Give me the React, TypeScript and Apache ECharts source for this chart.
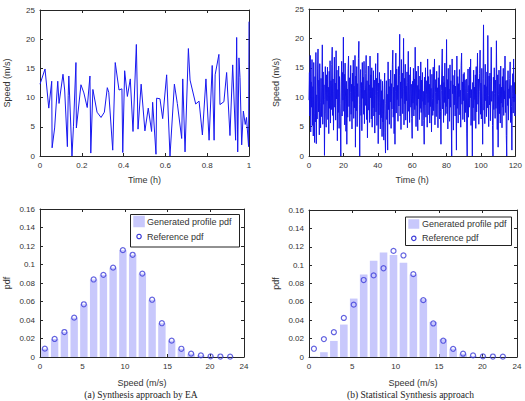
import React, { useEffect, useRef } from "react";
import * as echarts from "echarts";

// (a) one-hour synthetic wind speed profile: time (h) and speed (m/s)
const timeA = [
  0.0, 0.024, 0.042, 0.056, 0.058, 0.07, 0.085, 0.091, 0.11, 0.118, 0.131, 0.135, 0.138, 0.153, 0.16,
  0.172, 0.174, 0.196, 0.21, 0.226, 0.239, 0.243, 0.253, 0.273, 0.292, 0.308, 0.322, 0.329, 0.348,
  0.36, 0.378, 0.392, 0.396, 0.405, 0.418, 0.432, 0.445, 0.461, 0.469, 0.484, 0.502, 0.518, 0.534,
  0.539, 0.555, 0.558, 0.574, 0.587, 0.606, 0.622, 0.643, 0.657, 0.678, 0.683, 0.694, 0.71, 0.718,
  0.745, 0.761, 0.777, 0.794, 0.809, 0.824, 0.833, 0.838, 0.856, 0.861, 0.88, 0.893, 0.909, 0.922,
  0.936, 0.941, 0.946, 0.952, 0.957, 0.965, 0.973, 0.982, 0.988, 0.998, 1.0,
];
const speedA = [
  12.3, 14.9, 8.2, 12.8, 1.4, 4.8, 12.8, 9.0, 14.0, 11.3, 1.6, 10.4, 13.7, 0.0, 5.0,
  16.0, 4.8, 12.2, 10.8, 8.3, 13.7, 0.5, 11.4, 7.5, 6.6, 7.5, 11.7, 10.9, 1.0,
  16.0, 11.3, 11.5, 0.6, 14.6, 10.2, 13.2, 4.2, 19.1, 4.6, 12.3, 4.3, 8.2, 4.2,
  9.2, 0.3, 9.9, 9.8, 6.4, 13.9, 0.0, 12.3, 9.0, 3.0, 13.2, 0.7, 18.4, 13.0,
  8.9, 9.4, 3.6, 13.2, 2.7, 15.5, 2.7, 13.9, 17.4, 8.8, 9.3, 14.3, 3.5, 15.6,
  2.7, 20.3, 0.7, 16.8, 13.4, 1.9, 7.7, 5.4, 6.6, 1.6, 23.0,
];

// (b) 120-hour profile, one sample every quarter hour
const stepB = 0.25;
const speedB = [
  9.5, 14.2, 6.8, 17.1, 4.1, 12.6, 8.3, 16.4, 5.2, 11.8, 3.4, 15.9, 7.2, 2.3, 13.5, 5.8, 17.6, 2.1, 10.4, 6.3,
  14.8, 18.2, 7.5, 12.9, 3.6, 15.7, 9.1, 4.8, 13.2, 6.7, 11.6, 18.9, 5.4, 14.3, 8.8, 12.1, 0.1, 9.6, 15.2, 7.3,
  4.9, 13.8, 9.4, 15.1, 6.2, 11.7, 3.8, 14.4, 8.1, 16.2, 5.6, 12.8, 7.9, 15.6, 18.5, 6.9, 13.1, 4.4, 10.9, 16.8,
  8.3, 12.4, 6.1, 17.9, 9.7, 14.6, 2.6, 11.3, 7.4, 15.3, 4.7, 13.5, 8.9, 5.1, 0.0, 12.6, 16.1, 6.8, 14.2, 9.5,
  20.2, 7.6, 13.9, 5.3, 15.8, 10.2, 4.2, 12.7, 2.0, 11.4, 6.6, 14.9, 17.0, 8.4, 13.3, 5.9, 10.8, 15.4, 7.1, 12.2,
  4.6, 14.1, 9.3, 16.3, 6.4, 11.9, 8.2, 17.1, 1.5, 13.6, 7.7, 15.2, 5.0, 12.3, 10.1, 16.6, 19.5, 8.7, 0.0, 11.5,
  14.7, 6.9, 12.5, 4.3, 15.9, 9.8, 13.4, 7.1, 16.1, 5.5, 11.2, 8.6, 14.0, 17.1, 6.2, 12.8, 3.1, 10.7, 15.3, 7.8,
  12.1, 5.7, 17.0, 9.9, 13.8, 6.3, 15.0, 4.9, 11.6, 8.2, 14.5, 6.8, 12.9, 3.9, 10.3, 15.7, 7.5, 13.2, 5.2, 11.0,
  17.5, 2.1, 12.4, 7.0, 14.2, 9.1, 4.6, 13.0, 6.5, 11.1, 3.3, 12.7, 5.8, 9.6, 2.7, 11.4, 14.1, 4.0, 0.5, 8.9,
  12.8, 6.2, 10.5, 1.0, 16.0, 7.9, 13.1, 5.4, 11.8, 9.2, 14.6, 4.7, 12.3, 8.0, 15.5, 18.0, 6.6, 11.7, 3.8, 13.9,
  2.0, 10.9, 17.5, 7.3, 14.8, 9.6, 12.0, 5.9, 15.2, 8.5, 13.7, 20.7, 6.8, 12.6, 4.5, 16.4, 9.8, 14.1, 7.2, 11.5,
  20.0, 5.3, 13.2, 8.9, 15.6, 6.1, 11.9, 9.4, 14.3, 4.8, 12.5, 17.8, 7.6, 13.8, 5.7, 10.6, 15.1, 8.3, 12.2, 6.4,
  3.0, 12.7, 9.0, 14.9, 6.8, 13.1, 7.9, 18.5, 10.2, 5.0, 14.4, 8.6, 12.0, 4.3, 15.3, 9.7, 11.3, 6.2, 13.6, 8.1,
  16.0, 7.4, 12.9, 5.1, 14.2, 9.3, 11.0, 6.0, 2.0, 13.4, 8.7, 15.0, 6.6, 10.4, 12.8, 4.9, 16.5, 9.1, 13.5, 7.0,
  12.2, 5.6, 14.7, 8.4, 11.5, 4.1, 13.9, 9.8, 6.9, 15.1, 7.7, 12.4, 16.5, 5.3, 10.8, 13.0, 6.7, 14.4, 8.9, 11.6,
  4.8, 13.3, 9.5, 15.4, 6.3, 12.1, 7.6, 2.0, 11.2, 14.8, 18.2, 8.0, 13.6, 5.7, 12.5, 9.1, 15.8, 6.9, 11.7, 8.4,
  19.8, 7.2, 13.0, 4.6, 14.9, 9.7, 11.4, 5.9, 15.5, 8.3, 12.8, 6.1, 0.0, 16.5, 10.6, 13.7, 4.4, 12.1, 8.7, 14.6,
  6.8, 11.9, 9.2, 1.0, 17.0, 8.1, 13.5, 5.6, 12.3, 10.1, 14.7, 7.0, 11.2, 4.9, 15.4, 17.5, 8.8, 12.6, 6.2, 13.9,
  9.4, 14.2, 5.8, 12.9, 7.4, 11.5, 13.1, 3.9, 0.0, 10.8, 14.8, 6.6, 12.0, 8.3, 15.1, 9.9, 16.5, 5.2, 11.3, 7.9,
  0.0, 12.5, 8.2, 14.6, 6.0, 11.7, 9.6, 13.8, 4.7, 15.2, 7.5, 12.3, 17.5, 8.8, 13.1, 5.4, 10.9, 14.0, 18.0, 7.1,
  12.4, 6.3, 14.9, 9.0, 2.0, 13.2, 22.3, 7.8, 12.1, 5.5, 15.6, 9.4, 11.8, 6.7, 14.3, 8.2, 20.5, 10.3, 5.0, 13.6,
  8.7, 14.1, 6.0, 12.7, 18.5, 9.3, 11.0, 5.2, 0.0, 13.4, 7.9, 15.0, 10.6, 6.4, 12.9, 8.1, 19.6, 11.2, 4.5, 13.8,
  1.5, 10.4, 14.6, 7.2, 12.2, 5.6, 15.3, 9.0, 11.7, 4.8, 13.5, 8.3, 14.9, 6.9, 11.1, 9.7, 17.0, 7.4, 12.8, 3.5,
  0.0, 12.9, 8.6, 14.5, 6.1, 11.4, 9.8, 13.2, 16.0, 5.7, 12.0, 8.4, 1.0, 10.7, 14.0, 7.3, 16.5, 9.2, 12.5, 6.8,
  10.5,
];

// Histogram bins (bin centres in m/s) and probability densities
const binCenters = [
  0.57, 1.72, 2.87, 4.02, 5.16, 6.31, 7.46, 8.6, 9.75, 10.9,
  12.04, 13.19, 14.34, 15.49, 16.63, 17.78, 18.93, 20.07, 21.22, 22.37,
];
const referencePdf = [
  0.009, 0.0195, 0.027, 0.0425, 0.057, 0.0838, 0.0888, 0.0966, 0.1155, 0.1105,
  0.0902, 0.0619, 0.0365, 0.0177, 0.0089, 0.0036, 0.0017, 0.0007, 0.0005, 0.0004,
];
const generatedPdfA = [
  0.009, 0.0195, 0.027, 0.0425, 0.057, 0.0838, 0.0888, 0.0966, 0.1155, 0.1105,
  0.0902, 0.0619, 0.0365, 0.0177, 0.0089, 0.0036, 0.0017, 0.0007, 0.0005, 0.0004,
];
const generatedPdfB = [
  0.0004, 0.0052, 0.0175, 0.0353, 0.0636, 0.0898, 0.1047, 0.1138, 0.1109, 0.1025,
  0.0898, 0.0629, 0.0382, 0.0193, 0.009, 0.0036, 0.0012, 0.0005, 0.0003, 0.0002,
];

const pdfTicks = [0, 5, 10, 15, 20, 24];
const captionA = "(a) Synthesis approach by EA";
const captionB = "(b) Statistical Synthesis approach";
const legendBar = "Generated profile pdf";
const legendDot = "Reference pdf";

const SANS = '"Liberation Sans", Arial, Helvetica, sans-serif';
const SERIF = '"Liberation Serif", "Times New Roman", serif';
const AXIS = "#262626";
const TEXT = "#333333";
const LINE = "#1818f0";
const BAR = "#c8c8fc";
const DOT = "#3c3cd8";

function axisBase(gridIndex: number, position: string, showLabels: boolean) {
  return {
    gridIndex,
    type: "value",
    position,
    axisLine: { show: true, onZero: false, lineStyle: { color: AXIS, width: 1 } },
    axisTick: { show: true, inside: true, length: 3, lineStyle: { color: AXIS, width: 1 } },
    axisLabel: { show: showLabels, color: TEXT, fontSize: 8, fontFamily: SANS, margin: 5 },
    splitLine: { show: false },
    nameTextStyle: { color: TEXT, fontSize: 9, fontFamily: SANS },
  };
}

function xPair(gridIndex: number, range: any, name: string, nameGap: number) {
  return [
    { ...axisBase(gridIndex, "bottom", true), ...range, name, nameLocation: "middle", nameGap },
    { ...axisBase(gridIndex, "top", false), ...range },
  ];
}

function yPair(gridIndex: number, range: any, name: string) {
  return [
    { ...axisBase(gridIndex, "left", true), ...range, name, nameLocation: "middle", nameGap: 29, nameRotate: 90 },
    { ...axisBase(gridIndex, "right", false), ...range },
  ];
}

function withCustomTicks(axes: any[]) {
  return axes.map((a) => ({
    ...a,
    axisTick: { ...a.axisTick, customValues: pdfTicks },
    axisLabel: { ...a.axisLabel, customValues: pdfTicks },
  }));
}

function legendBox(x: number, y: number, w: number, h: number, rowGap: number, sw: number, sh: number) {
  const row1 = y + 7;
  const row2 = row1 + rowGap;
  const textX = x + 16.5;
  return [
    { type: "rect", shape: { x, y, width: w, height: h }, style: { fill: "#ffffff", stroke: "#222222", lineWidth: 1 }, z: 10 },
    { type: "rect", shape: { x: x + 2.8, y: row1 - sh / 2, width: sw, height: sh }, style: { fill: BAR }, z: 11 },
    { type: "text", x: textX, y: row1, style: { text: legendBar, fontSize: 9, fontFamily: SANS, fill: TEXT, verticalAlign: "middle", align: "left" }, z: 11 },
    { type: "circle", shape: { cx: x + 2.8 + sw / 2, cy: row2, r: 2.2 }, style: { fill: "none", stroke: DOT, lineWidth: 1.2 }, z: 11 },
    { type: "text", x: textX, y: row2, style: { text: legendDot, fontSize: 9, fontFamily: SANS, fill: TEXT, verticalAlign: "middle", align: "left" }, z: 11 },
  ];
}

export default function App() {
  const ref = useRef<HTMLDivElement>(null);

  useEffect(() => {
    document.body.style.margin = "0";
    if (!ref.current) return;
    const chart = echarts.init(ref.current, undefined, { renderer: "svg" });

    const lineA = timeA.map((t, i) => [t, speedA[i]]);
    const lineB = speedB.map((v, i) => [i * stepB, v]);
    const barsA = binCenters.map((c, i) => [c, generatedPdfA[i]]);
    const barsB = binCenters.map((c, i) => [c, generatedPdfB[i]]);
    const dots = binCenters.map((c, i) => [c, referencePdf[i]]);

    const speedRange = { min: 0, max: 25, interval: 5 };
    const pdfRange = { min: 0, max: 0.16, interval: 0.02 };
    const pdfXRange = { min: 0, max: 24 };

    const option: any = {
      animation: false,
      backgroundColor: "#ffffff",
      grid: [
        { left: 40, top: 10, width: 209, height: 146 },
        { left: 309, top: 9, width: 208, height: 147 },
        { left: 40, top: 209, width: 204, height: 148 },
        { left: 309, top: 210, width: 208, height: 147 },
      ],
      xAxis: [
        ...xPair(0, { min: 0, max: 1, interval: 0.2 }, "Time (h)", 19),
        ...xPair(1, { min: 0, max: 120, interval: 20 }, "Time (h)", 19),
        ...withCustomTicks(xPair(2, pdfXRange, "Speed (m/s)", 21)),
        ...withCustomTicks(xPair(3, pdfXRange, "Speed (m/s)", 21)),
      ],
      yAxis: [
        ...yPair(0, speedRange, "Speed (m/s)"),
        ...yPair(1, speedRange, "Speed (m/s)"),
        ...yPair(2, pdfRange, "pdf"),
        ...yPair(3, pdfRange, "pdf"),
      ],
      series: [
        {
          type: "line", xAxisIndex: 0, yAxisIndex: 0, data: lineA, showSymbol: false,
          lineStyle: { color: LINE, width: 1 }, silent: true,
        },
        {
          type: "line", xAxisIndex: 2, yAxisIndex: 2, data: lineB, showSymbol: false,
          lineStyle: { color: "#1414e8", width: 1 }, silent: true,
        },
        {
          name: legendBar, type: "bar", xAxisIndex: 4, yAxisIndex: 4, data: barsA, barWidth: 7.4,
          itemStyle: { color: BAR }, silent: true,
        },
        {
          name: legendDot, type: "scatter", xAxisIndex: 4, yAxisIndex: 4, data: dots, symbol: "circle",
          symbolSize: 5, itemStyle: { color: "rgba(0,0,0,0)", borderColor: DOT, borderWidth: 1.2 }, silent: true, z: 5,
        },
        {
          name: legendBar, type: "bar", xAxisIndex: 6, yAxisIndex: 6, data: barsB, barWidth: 7.6,
          itemStyle: { color: BAR }, silent: true,
        },
        {
          name: legendDot, type: "scatter", xAxisIndex: 6, yAxisIndex: 6, data: dots, symbol: "circle",
          symbolSize: 5, itemStyle: { color: "rgba(0,0,0,0)", borderColor: DOT, borderWidth: 1.2 }, silent: true, z: 5,
        },
      ],
      graphic: [
        ...legendBox(130.5, 214.5, 109, 32.5, 15, 11.5, 11.5),
        ...legendBox(405.5, 217, 106, 28.5, 14.3, 11, 9.5),
        {
          type: "text", x: 141, y: 389.5,
          style: { text: captionA, fontSize: 9.5, fontFamily: SERIF, fill: "#222222", align: "center", verticalAlign: "top" },
        },
        {
          type: "text", x: 410.5, y: 389.5,
          style: { text: captionB, fontSize: 9.5, fontFamily: SERIF, fill: "#222222", align: "center", verticalAlign: "top" },
        },
      ],
    };

    chart.setOption(option);
    return () => chart.dispose();
  }, []);

  return <div ref={ref} style={{ width: 525, height: 401, overflow: "hidden" }} />;
}
